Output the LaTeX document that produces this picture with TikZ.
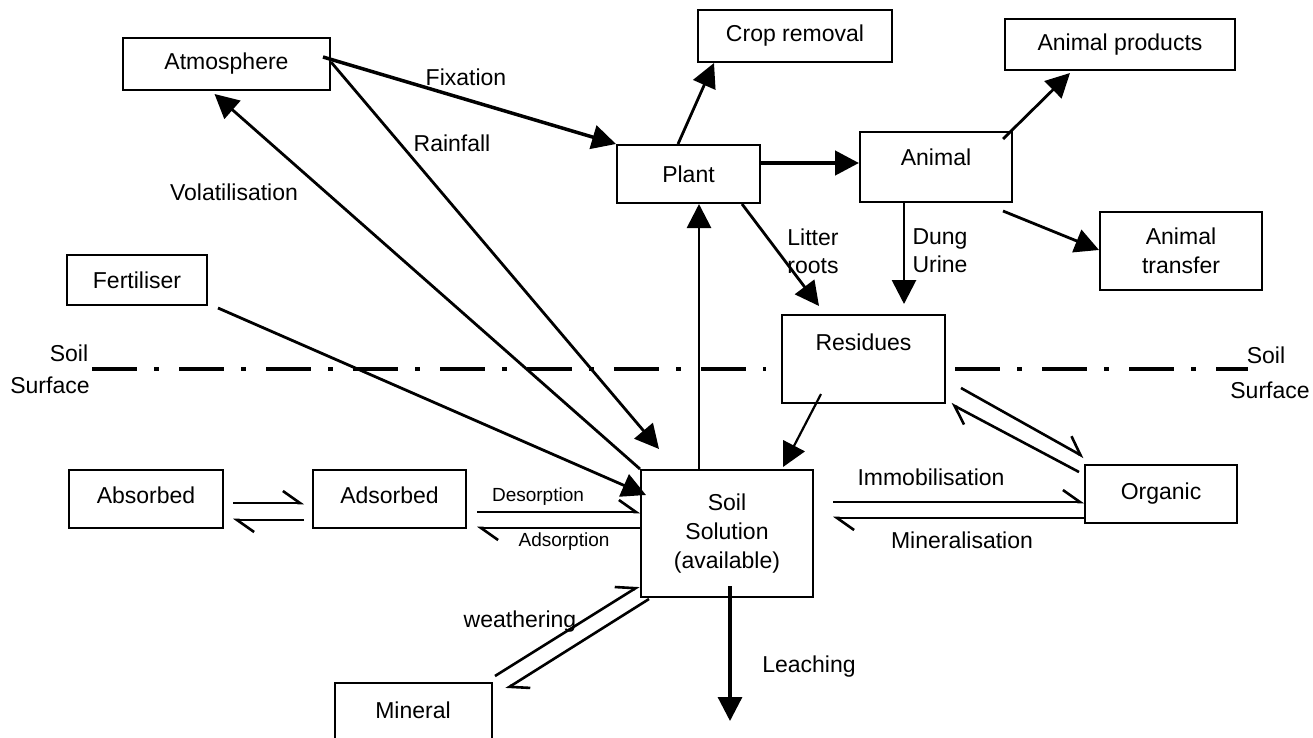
\documentclass[tikz,border=0pt]{standalone}
\usepackage{fontspec}
\setmainfont{Liberation Sans}
\usetikzlibrary{arrows.meta}

\begin{document}
\begin{tikzpicture}[x=1pt,y=-1pt,
    box/.style={draw, line width=2pt, inner sep=0pt, align=center, font=\fontsize{23}{29}\selectfont},
    lbl/.style={inner sep=0pt, align=center, font=\fontsize{23}{28}\selectfont},
    small/.style={inner sep=0pt, font=\fontsize{19}{22}\selectfont},
    flow/.style={line width=2.8pt, -{Triangle[length=24pt,width=24pt]}},
    half/.style={line width=2.6pt, -{Straight Barb[left,length=17pt,width=24pt]}},
    surface/.style={line width=4.2pt, dash pattern=on 45pt off 17pt on 5pt off 20pt}]
    \useasboundingbox (0,0) rectangle (1313,737);
    \clip (0,0) rectangle (1313,737);

    % above ground
    \node[box, minimum width=207, minimum height=52] (atm) at (226.5,64) {Atmosphere};
    \node[box, minimum width=194, minimum height=52] (crop) at (795,36) {Crop removal};
    \node[box, minimum width=230, minimum height=51] (aprod) at (1120,44.5) {Animal products};
    \node[box, minimum width=143, minimum height=58] (plant) at (688.5,174) {Plant};
    \node[box, minimum width=152, minimum height=70, text depth=20pt] (animal) at (936,167) {Animal};
    \node[box, minimum width=162, minimum height=78] (atrans) at (1181,251) {Animal\\transfer};
    \node[box, minimum width=140, minimum height=50] (fert) at (137,280) {Fertiliser};
    \node[box, minimum width=163, minimum height=88, text depth=34pt] (resid) at (863.5,359) {Residues};

    % below ground
    \node[box, minimum width=172, minimum height=127] (soil) at (727,533.5) {Soil\\Solution\\(available)};
    \node[box, minimum width=154, minimum height=58, text depth=8pt] (absb) at (146,499) {Absorbed};
    \node[box, minimum width=153, minimum height=58, text depth=8pt] (adsb) at (389.5,499) {Adsorbed};
    \node[box, minimum width=152, minimum height=58] (org) at (1161,494) {Organic};
    \node[box, minimum width=157, minimum height=70, text depth=16pt] (mineral) at (413,718) {Mineral};

    % soil surface
    \draw[surface] (92,369) -- (766,369);
    \draw[surface] (955,369) -- (1248,369);
    \node[lbl] (soilL) at (69,353) {Soil};
    \node[lbl] (surfL) at (50,385) {Surface};
    \node[lbl] (soilR) at (1266,355) {Soil};
    \node[lbl] (surfR) at (1270,390) {Surface};

    % fluxes
    \draw[flow, line width=3.5pt] ([shift={(-8,20)}]atm.north east) -- (plant.north west);
    \draw[flow] ([shift={(0,25)}]atm.north east) -- ([shift={(19,-20)}]soil.north west);
    \draw[flow] (soil.north west) -- ([shift={(-12,3)}]atm.south);
    \draw[flow] ([shift={(10,2)}]fert.south east) -- ([shift={(6,-38.5)}]soil.west);
    \draw[flow] ([shift={(-28,0)}]soil.north) -- ([shift={(10.5,0)}]plant.south);
    \draw[flow] ([shift={(-10.5,0)}]plant.north) -- ([shift={(-81,0)}]crop.south);
    \draw[flow, line width=4.5pt] ([shift={(0,-11)}]plant.east) -- ([shift={(0,-4)}]animal.west);
    \draw[flow] ([shift={(-10,8)}]animal.north east) -- ([shift={(-50,2)}]aprod.south);
    \draw[flow] ([shift={(-10,8)}]animal.south east) -- ([shift={(0,-1)}]atrans.west);
    \draw[flow] ([shift={(-32,0)}]animal.south) -- ([shift={(40.5,-10)}]resid.north);
    \draw[flow] ([shift={(-19,0)}]plant.south east) -- ([shift={(38,-8)}]resid.north west);
    \draw[flow, line width=2.2pt] ([shift={(40,-10)}]resid.south west) -- ([shift={(56,-2)}]soil.north);
    \draw[flow, line width=3.2pt] ([shift={(3,-12)}]soil.south) -- ([shift={(3,123)}]soil.south);

    % two-way exchanges
    \draw[half] ([shift={(15,-16)}]resid.south east) -- ([shift={(0,-7)}]org.north west);
    \draw[half] ([shift={(-5,8)}]org.north west) -- ([shift={(5,0)}]resid.south east);
    \draw[half] ([shift={(19,-31.5)}]soil.east) -- ([shift={(0,8)}]org.west);
    \draw[half] ([shift={(0,24)}]org.west) -- ([shift={(19,-15.5)}]soil.east);
    \draw[half] ([shift={(10,13)}]adsb.east) -- ([shift={(0,-21.5)}]soil.west);
    \draw[half] ([shift={(0,-5.5)}]soil.west) -- ([shift={(10,29)}]adsb.east);
    \draw[half] ([shift={(9,4)}]absb.east) -- ([shift={(-8,4)}]adsb.west);
    \draw[half] ([shift={(-8,21)}]adsb.west) -- ([shift={(9,21)}]absb.east);
    \draw[half] ([shift={(2.5,-6)}]mineral.north east) -- ([shift={(-1,-12)}]soil.south west);
    \draw[half] ([shift={(9,1)}]soil.south west) -- ([shift={(13.5,7)}]mineral.north east);

    % flux labels
    \node[lbl] (lfix) at (466,77) {Fixation};
    \node[lbl] (lrain) at (452,143) {Rainfall};
    \node[lbl] (lvol) at (234,192) {Volatilisation};
    \node[lbl] (llitter) at (813,251) {Litter\\roots};
    \node[lbl] (ldung) at (940,251) {Dung\\Urine};
    \node[lbl] (limmo) at (931,477) {Immobilisation};
    \node[lbl] (lmin) at (962,540) {Mineralisation};
    \node[small] (ldes) at (538,497) {Desorption};
    \node[small] (lads) at (564,542) {Adsorption};
    \node[lbl] (lweath) at (520,622) {weathering};
    \node[lbl] (lleach) at (809,667) {Leaching};
\end{tikzpicture}
\end{document}
